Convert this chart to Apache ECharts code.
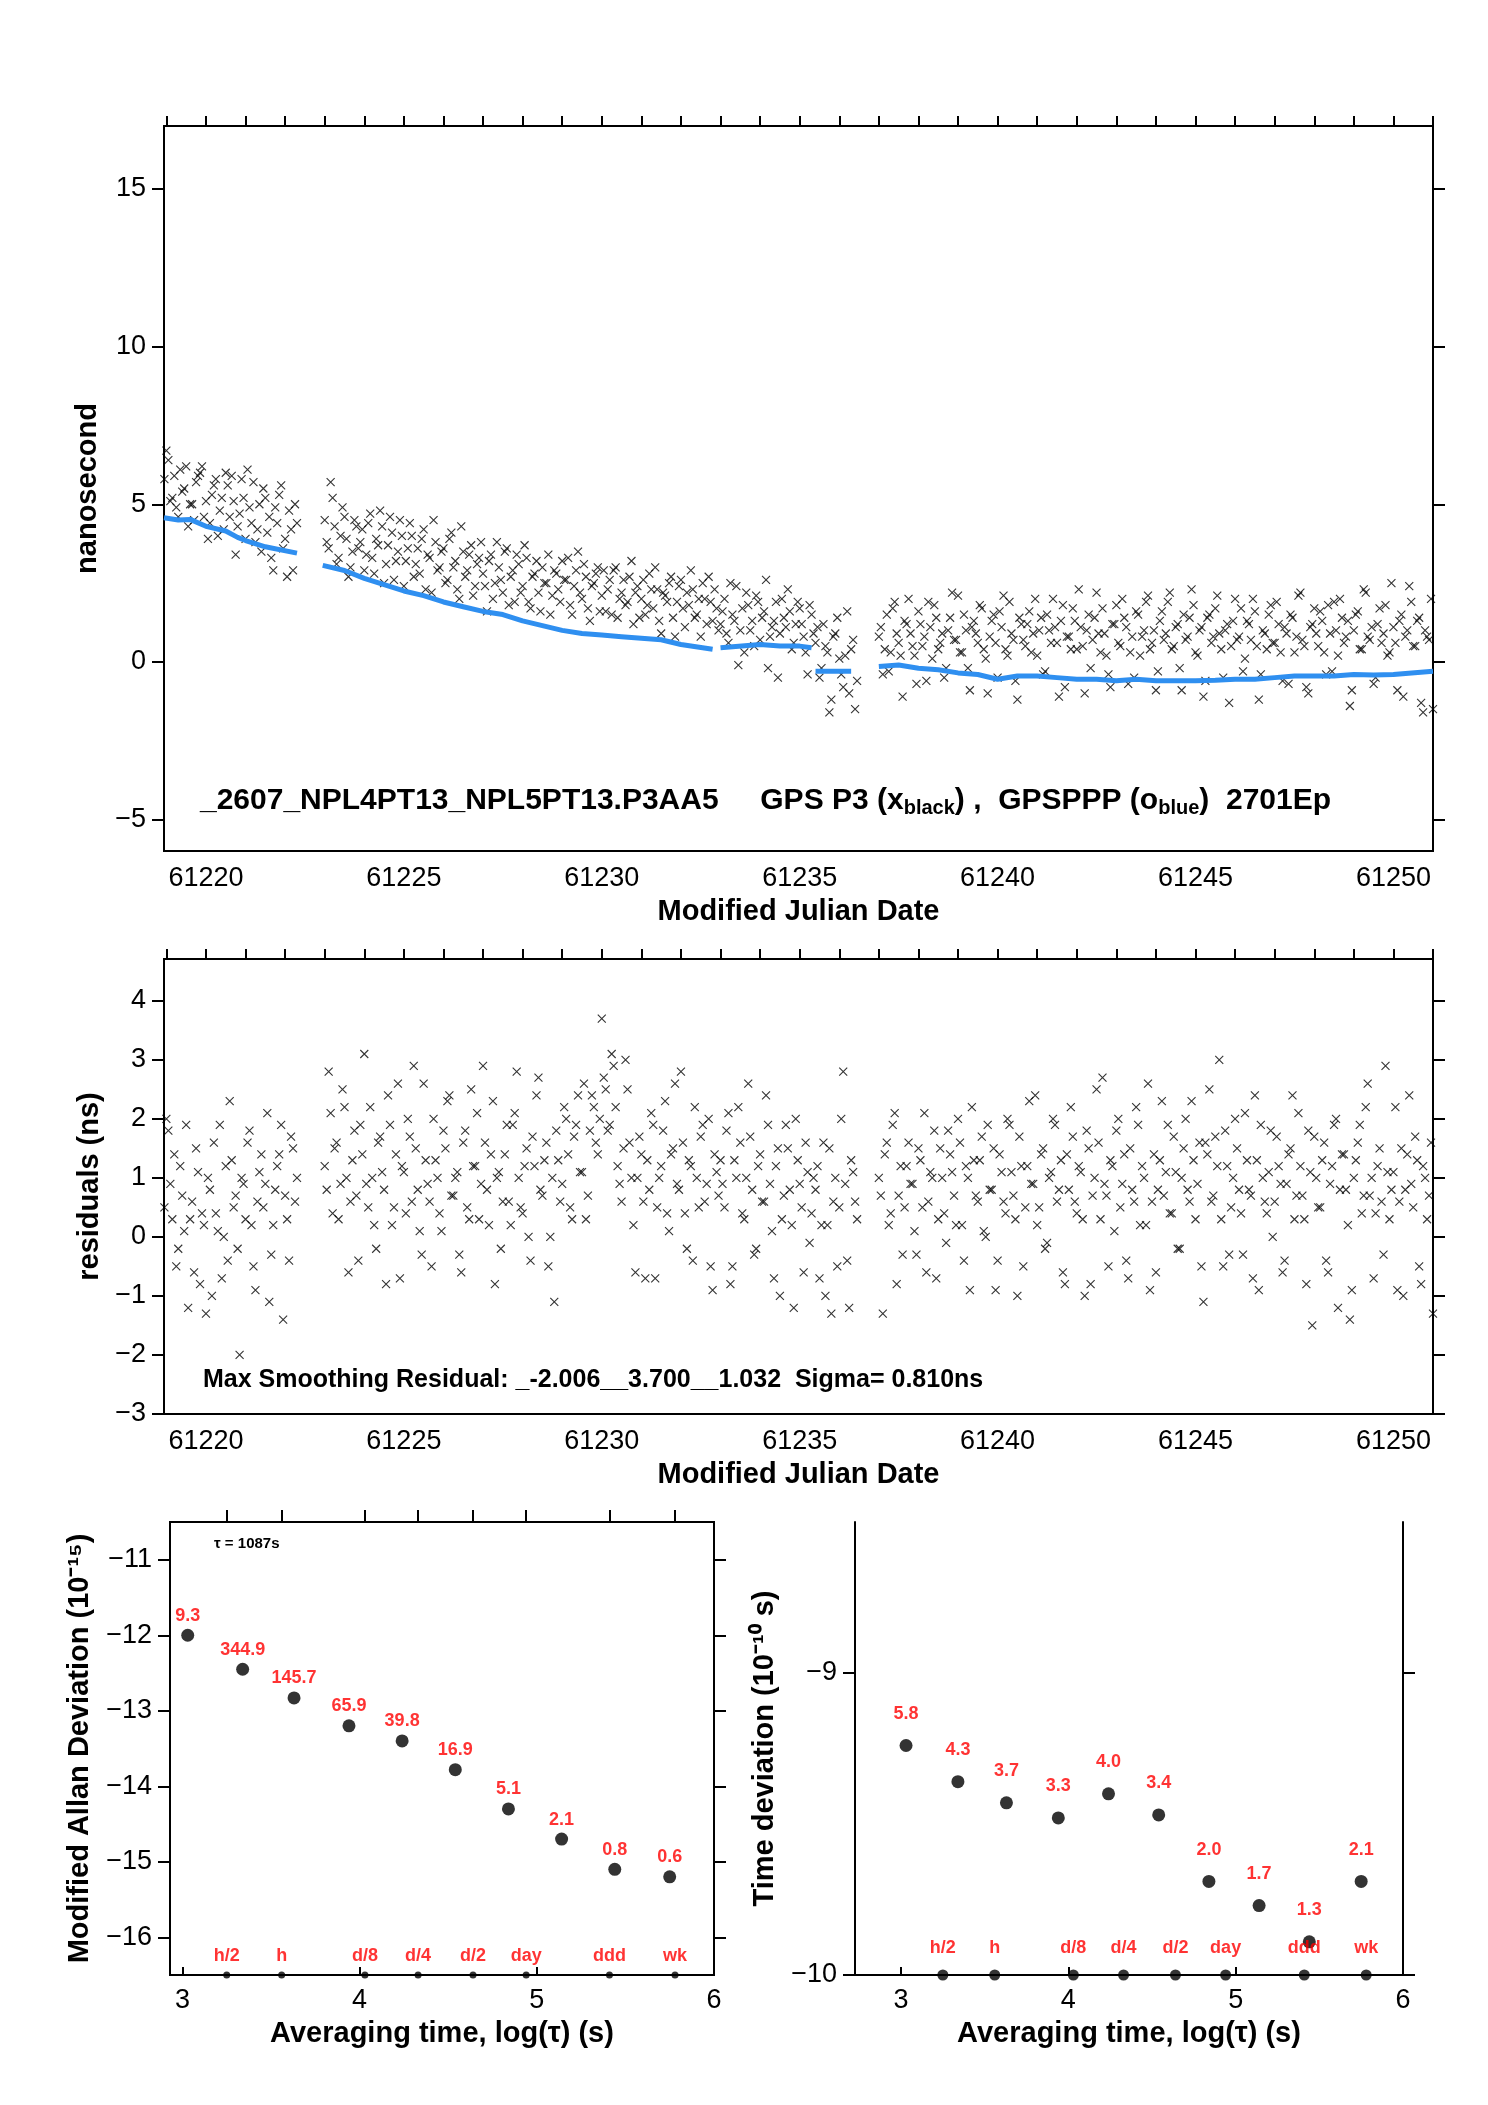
<!DOCTYPE html>
<html><head><meta charset="utf-8">
<script src="https://cdn.jsdelivr.net/npm/echarts@6/dist/echarts.min.js"></script>
<style>html,body{margin:0;background:#fff}#c{width:1488px;height:2105px}</style>
</head><body><div id="c"></div>
<script>
// sampling step of the clock data, days; second sample set sits half a step later
var STEP = 0.1;
var HALF = 0.05;
// segment start times (MJD)
var segStart = [61218.95, 61223.0, 61233.0, 61235.4, 61237.0];

// GPS P3 differences, ns, per segment
var p3Seg = [
 [5.8,6.4,5.2,4.9,6.1,5.5,4.3,5.0,5.7,6.0,4.6,3.9,5.3,5.8,4.8,4.2,5.6,5.9,3.4,4.7,5.2,6.1,4.4,3.8,5.0,5.5,4.1,3.3,4.9,5.3,3.6,2.7,4.2,5.0],
 [4.5,3.6,5.2,3.1,4.0,4.6,2.7,3.5,4.3,3.8,2.9,4.4,3.3,3.9,4.8,2.5,3.7,4.1,3.2,4.5,
  2.4,3.6,4.0,3.1,2.8,4.2,3.4,2.2,3.8,3.0,3.6,2.6,4.1,3.2,2.0,3.5,2.9,3.7,2.4,3.3,
  2.8,1.6,3.4,2.5,3.0,2.2,3.6,2.7,1.9,3.1,2.4,3.3,1.7,2.8,2.2,3.0,2.5,1.5,2.9,2.3,
  3.2,2.6,1.8,2.4,3.5,2.0,2.7,1.3,2.5,3.0,2.1,1.6,2.6,2.9,1.4,2.2,1.8,2.7,1.2,2.4,
  2.0,1.5,2.8,1.7,2.3,0.9,2.1,2.5,1.4,1.9,2.6,1.1,1.8,2.3,1.5,0.8,2.0,2.7,1.3,1.7],
 [1.2,2.0,0.6,1.5,2.4,1.0,0.3,1.8,1.3,2.1,0.7,1.6,-0.2,1.1,1.9,0.9,1.4,2.3,0.4,1.2,1.7,0.8,-0.4,1.5],
 [0.6,-0.5,1.2,0.3,-1.2,0.9,0.1,-0.8,1.6,0.4,-1.5],
 [0.8,-0.4,1.5,0.3,1.9,0.6,-1.1,1.2,0.9,0.2,1.6,0.5,-0.6,1.1,1.8,0.4,0.9,-0.2,1.4,0.7,
  2.1,0.3,1.0,-0.9,1.3,0.6,1.7,0.1,0.8,1.5,-0.5,1.1,0.4,1.9,0.7,-1.2,1.2,0.5,1.6,0.9,
  0.2,1.4,-0.3,1.0,2.0,0.6,1.3,-0.8,0.8,1.7,0.4,1.1,-1.0,1.5,0.7,2.2,0.3,0.9,-0.4,1.2,
  1.8,0.5,1.4,-0.7,0.8,1.6,0.2,1.0,2.1,0.6,-0.9,1.3,0.7,1.9,0.4,1.1,-0.2,1.5,0.8,2.3,
  0.3,1.0,-1.1,1.4,0.6,1.7,0.9,-0.5,1.2,0.5,2.0,0.8,-0.3,1.3,0.7,1.6,-1.2,1.0,0.4,1.8,
  0.6,1.2,-0.6,0.9,1.5,0.3,2.1,0.7,-0.8,1.1,1.7,0.5,1.3,-0.4,0.9,1.9,0.2,1.4,0.8,-1.4,
  1.0,1.6,0.4,2.2,0.7,-0.7,1.2,0.6,1.8,0.3,1.1,-0.9,1.5,0.8,2.4,0.5,1.3,-1.3,1.0,0.7,-1.5]
];
var p3SegB = [
 [6.7,5.1,5.9,4.6,5.4,6.2,5.0,4.5,5.9,6.2,5.1,4.4,5.6,4.0,5.2,6.0,4.6,5.1,4.3,5.8,3.9,4.9,5.7,4.2,3.5,5.2,4.6,2.9,4.4,5.6,3.9,4.8,2.9,4.4],
 [3.8,5.7,4.3,3.3,4.9,3.9,3.0,4.5,3.6,4.2,3.4,4.7,2.8,3.7,4.3,3.1,4.6,2.6,3.5,4.0,
  3.2,4.4,2.7,3.6,3.9,2.3,3.3,4.5,2.9,3.5,2.5,3.9,3.0,2.3,4.3,2.7,3.4,2.1,3.1,3.8,
  2.4,3.2,2.0,3.8,2.6,3.5,1.8,2.9,3.4,2.2,3.7,1.9,2.7,3.2,1.6,2.5,3.4,2.1,2.8,1.9,
  2.6,3.3,1.5,2.9,2.2,3.1,1.7,2.4,2.8,1.6,2.9,2.3,1.5,3.0,2.0,2.6,1.9,3.2,2.2,1.4,
  2.6,1.8,2.3,3.0,1.3,2.2,1.9,2.7,0.8,2.4,1.7,2.2,2.9,1.4,2.0,2.5,1.2,1.9,2.3,1.0],
 [1.6,0.9,2.5,1.3,-0.1,1.7,2.2,1.0,0.5,1.9,1.4,2.6,0.8,1.3,-0.5,2.0,1.1,1.6,0.6,1.9,1.2,0.3,1.8,0.9],
 [1.1,-0.2,0.5,-1.6,0.8,1.4,-0.4,0.2,-1.0,0.7,-0.6],
 [1.1,0.4,-0.3,1.7,0.9,0.2,1.3,2.0,0.5,-0.7,1.2,0.8,1.9,0.1,1.4,0.6,-0.5,1.0,2.2,0.7,
  0.3,1.5,-0.2,1.1,0.9,1.8,0.4,-1.0,1.3,0.6,1.6,2.1,0.2,0.9,-0.6,1.4,0.7,1.2,0.3,2.0,
  1.0,-0.4,1.5,0.6,1.1,-1.1,1.8,0.8,0.4,1.3,2.3,0.5,1.0,-0.2,1.4,0.9,1.7,0.2,-0.8,1.2,
  0.6,2.0,1.1,0.3,-0.5,1.5,0.8,1.9,0.4,1.0,-0.3,1.6,0.9,2.2,0.5,1.2,-0.9,0.7,1.4,1.8,
  0.2,1.1,-0.6,1.5,0.8,2.1,0.4,1.0,-1.3,1.3,0.7,1.7,0.1,1.2,2.0,0.5,-0.4,0.9,1.5,0.6,
  1.9,0.3,1.1,-0.7,1.4,0.8,2.2,0.5,-1.0,1.2,0.9,1.6,0.3,1.8,-0.3,1.0,2.0,0.6,1.3,-0.9,
  1.5,0.4,2.3,0.8,1.1,-0.5,1.7,0.9,0.2,2.5,0.6,1.3,-1.1,1.0,1.9,0.5,1.4,-1.6,0.8,2.0]
];

// GPSPPP smoothed curve [MJD, ns], null = gap
var ppp = [
 [61218.94,4.57],[61219.3,4.5],[61219.6,4.52],[61220.0,4.3],[61220.5,4.15],[61220.8,3.95],[61221.0,3.85],
 [61221.5,3.65],[61222.3,3.45],null,
 [61222.95,3.06],[61223.5,2.9],[61224.0,2.65],[61224.5,2.45],[61225.0,2.25],[61225.5,2.1],[61226.0,1.9],
 [61226.5,1.75],[61227.0,1.6],[61227.5,1.5],[61228.0,1.3],[61228.5,1.15],[61229.0,1.0],[61229.5,0.9],
 [61230.0,0.85],[61230.5,0.8],[61231.0,0.75],[61231.5,0.7],[61232.0,0.55],[61232.8,0.4],null,
 [61233.0,0.45],[61234.0,0.55],[61234.5,0.5],[61235.0,0.5],[61235.3,0.45],null,
 [61235.4,-0.3],[61236.3,-0.3],null,
 [61237.0,-0.15],[61237.5,-0.1],[61238.0,-0.2],[61238.5,-0.25],[61239.0,-0.35],[61239.5,-0.4],[61240.0,-0.55],
 [61240.5,-0.45],[61241.0,-0.45],[61241.5,-0.5],[61242.0,-0.55],[61242.5,-0.55],[61243.0,-0.6],
 [61243.5,-0.55],[61244.0,-0.6],[61244.5,-0.6],[61245.0,-0.6],[61245.5,-0.58],[61246.0,-0.55],
 [61246.5,-0.55],[61247.0,-0.5],[61247.5,-0.45],[61248.0,-0.45],[61248.5,-0.45],[61249.0,-0.4],
 [61249.5,-0.42],[61250.0,-0.4],[61251.0,-0.3]
];

// smoothing residuals, ns, per segment
var resSeg = [
 [0.5,1.8,0.3,-0.5,1.2,0.1,-1.2,0.6,1.5,-0.8,0.2,1.0,-1.0,0.4,1.9,0.0,-0.4,1.3,0.7,-2.0,0.9,1.6,0.2,-0.9,1.1,0.5,2.1,-0.3,0.8,1.4,-1.4,0.3,1.7,0.6],
 [1.2,2.8,0.4,1.6,0.9,2.2,-0.6,1.3,0.7,1.9,3.1,0.5,1.0,-0.2,1.7,0.8,2.4,0.2,1.4,-0.7,
  1.1,2.0,0.6,1.5,0.1,2.6,0.9,-0.5,1.3,0.4,1.8,2.3,0.7,1.0,-0.3,1.6,0.5,2.5,1.2,0.3,
  2.9,0.8,1.4,-0.8,1.1,0.6,1.9,0.2,2.1,1.0,0.4,1.5,-0.4,1.2,2.7,0.7,1.6,0.0,-1.1,1.3,
  0.9,2.0,0.5,1.7,2.4,1.1,0.3,1.8,2.2,1.4,3.7,2.5,1.9,2.9,1.2,0.6,3.0,1.6,0.2,1.0,
  1.4,-0.7,0.8,1.9,0.5,1.2,2.3,0.1,1.5,0.9,2.8,0.4,1.3,-0.4,1.0,1.7,0.6,2.0,-0.9,1.1],
 [1.3,0.5,2.1,-0.5,1.0,1.6,0.3,2.6,0.8,-0.2,1.4,0.6,1.9,0.1,1.2,-1.0,0.7,1.5,0.2,2.0,0.9,-0.6,1.1,0.4],
 [0.8,-0.7,1.6,0.2,-1.3,1.0,0.5,2.8,-0.4,1.3,0.6],
 [1.0,-1.3,1.6,0.4,2.1,0.7,-0.3,1.2,0.9,0.1,1.5,0.5,-0.6,1.1,1.8,0.3,1.0,-0.1,1.4,0.7,
  2.0,0.2,1.2,-0.9,1.3,0.6,1.7,0.0,0.8,1.5,-0.4,1.1,0.4,1.9,0.7,-1.0,1.2,0.5,2.3,0.9,
  0.2,1.4,-0.2,1.0,2.0,0.6,1.3,-0.8,0.8,1.7,0.4,1.1,-1.0,1.5,0.7,2.5,0.3,0.9,-0.5,1.2,
  1.8,0.5,1.4,-0.7,0.8,2.2,0.2,1.0,2.6,0.6,-0.6,1.3,0.7,1.9,0.4,1.1,-0.2,1.5,0.8,2.3,
  0.3,1.6,-1.1,1.4,0.6,1.7,3.0,-0.5,1.2,0.5,2.0,0.8,-0.3,1.3,0.7,2.4,-0.9,1.0,0.4,1.8,
  0.6,1.2,-0.6,0.9,1.5,0.3,2.1,0.7,-0.8,1.1,1.7,0.5,1.3,-0.4,0.9,1.9,-1.2,1.4,0.8,-1.4,
  1.0,1.6,0.4,2.2,0.7,-0.7,1.2,0.6,2.9,0.3,1.1,-0.9,1.5,0.8,2.4,0.5,1.3,-0.8,1.0,0.7,-1.3]
];
var resSegB = [
 [2.0,0.9,1.4,-0.2,0.7,1.9,0.3,-0.6,1.1,0.4,-1.3,0.8,1.6,0.1,-0.7,1.2,2.3,0.5,-0.2,1.0,0.3,1.8,-0.5,0.6,1.4,0.9,-1.1,0.2,1.2,1.9,0.7,-0.4,1.5,1.0],
 [0.8,2.1,1.5,0.3,2.5,1.0,0.6,1.8,-0.4,1.4,0.9,2.2,0.2,1.6,1.1,-0.8,1.9,0.5,2.6,1.2,
  0.4,1.7,2.9,0.8,-0.3,1.3,0.6,2.0,1.0,0.1,1.5,2.4,0.7,1.1,-0.6,1.8,0.3,1.2,2.1,0.9,
  1.6,0.2,2.3,1.0,-0.2,1.4,0.6,1.9,2.8,0.5,1.2,0.0,1.7,2.4,0.8,1.3,-0.5,1.0,1.8,0.6,
  2.2,1.4,0.3,1.9,1.1,2.6,0.7,2.4,1.6,2.0,2.7,1.8,3.1,2.2,0.9,1.5,2.5,1.0,-0.6,1.7,
  0.6,1.3,2.1,-0.7,1.0,1.8,0.4,1.4,2.6,0.8,1.6,-0.2,1.2,2.2,0.5,1.9,0.9,-0.5,1.4,0.7],
 [0.9,1.8,-0.8,1.3,2.2,0.4,1.0,1.7,-0.3,1.2,0.6,2.4,0.9,-0.7,1.5,0.3,1.9,0.8,-1.2,1.3,0.5,1.6,-0.1,1.0],
 [1.2,0.2,-1.0,1.5,0.6,-0.5,2.0,0.9,-1.2,1.1,0.3],
 [0.7,1.4,0.2,1.9,-0.8,1.2,0.5,1.6,0.9,-0.3,1.3,2.1,0.6,1.0,-0.7,1.5,0.4,1.8,1.1,0.2,
  1.6,-0.4,1.0,2.2,0.7,1.3,0.1,1.9,0.8,-0.9,1.4,0.6,2.0,1.1,0.3,1.7,-0.5,1.2,0.9,2.4,
  0.5,1.5,-0.1,1.1,1.9,0.8,-0.6,1.4,2.2,0.6,1.2,0.3,1.8,-0.8,1.0,1.6,2.7,0.7,1.3,0.1,
  2.0,0.9,-0.4,1.5,0.6,1.9,1.2,0.2,-0.9,1.4,0.8,2.3,1.1,0.4,1.7,-0.2,1.0,2.0,0.6,1.3,
  0.9,-0.5,1.6,2.5,0.7,1.2,0.3,1.8,-0.3,1.0,1.5,0.4,2.1,0.8,-0.7,1.3,1.9,0.6,1.1,0.0,
  1.7,0.9,-0.4,1.4,2.4,0.7,1.2,0.3,1.8,-1.5,1.0,0.5,1.6,-0.6,1.2,2.0,0.8,1.4,0.2,-0.9,
  1.3,1.9,0.7,2.6,1.0,0.4,1.5,-0.3,1.1,0.8,2.2,0.6,-1.0,1.4,0.9,1.7,-0.5,1.2,0.3,1.6]
];

// stability analysis
var logTau = [3.03,3.34,3.63,3.94,4.24,4.54,4.84,5.14,5.44,5.75];
var modAdev = [-12.0,-12.45,-12.83,-13.2,-13.4,-13.78,-14.3,-14.7,-15.1,-15.2];
var adevLbl = ['9.3','344.9','145.7','65.9','39.8','16.9','5.1','2.1','0.8','0.6'];
var tdev = [-9.24,-9.36,-9.43,-9.48,-9.40,-9.47,-9.69,-9.77,-9.89,-9.69];
var tdevLbl = ['5.8','4.3','3.7','3.3','4.0','3.4','2.0','1.7','1.3','2.1'];
var markTau = [3.25,3.56,4.03,4.33,4.64,4.94,5.41,5.78];
var markLbl = ['h/2','h','d/8','d/4','d/2','day','ddd','wk'];

var mjdLabels = [61220,61225,61230,61235,61240,61245,61250];
var mjdDays = [];
for (var d = 61219; d <= 61251; d++) mjdDays.push(d);

function toPts(segs, shift) {
  var out = [];
  segs.forEach(function (vals, s) {
    vals.forEach(function (v, i) { out.push([segStart[s] + shift + i * STEP, v]); });
  });
  return out;
}

var FONT = 'Liberation Sans';
var minus = function (v) { return String(v).replace('-', '\u2212'); };
var cross = 'path://M0,0L10,10M10,0L0,10';
var black = '#000';

function mjdAxes(gi) {
  return [
    {gridIndex: gi, type: 'value', min: 61218.94, max: 61251, position: 'bottom',
     name: 'Modified Julian Date', nameLocation: 'middle', nameGap: 46,
     nameTextStyle: {fontFamily: FONT, fontSize: 29, fontWeight: 'bold', color: black},
     axisLine: {onZero: false, lineStyle: {color: black, width: 2}}, axisTick: {show: false}, splitLine: {show: false},
     axisLabel: {customValues: mjdLabels, formatter: function (v) { return String(v); },
       fontFamily: FONT, fontSize: 27, color: black, margin: 14}},
    {gridIndex: gi, type: 'value', min: 61218.94, max: 61251, position: 'top',
     axisLine: {onZero: false, lineStyle: {color: black, width: 2}}, splitLine: {show: false},
     axisLabel: {show: false},
     axisTick: {customValues: mjdDays, length: 10, lineStyle: {color: black, width: 2}}}
  ];
}

function yAxes(gi, mn, mx, vals, name, gap) {
  return [
    {gridIndex: gi, type: 'value', min: mn, max: mx, position: 'left',
     name: name, nameLocation: 'middle', nameGap: gap, nameRotate: 90,
     nameTextStyle: {fontFamily: FONT, fontSize: 29, fontWeight: 'bold', color: black},
     axisLine: {show: true, onZero: false, lineStyle: {color: black, width: 2}}, splitLine: {show: false},
     axisTick: {show: true, customValues: vals, length: 12, lineStyle: {color: black, width: 2}},
     axisLabel: {customValues: vals, formatter: minus, fontFamily: FONT, fontSize: 27, color: black, margin: 18}},
    {gridIndex: gi, type: 'value', min: mn, max: mx, position: 'right',
     axisLine: {show: true, onZero: false, lineStyle: {color: black, width: 2}}, splitLine: {show: false}, axisLabel: {show: false},
     axisTick: {show: true, customValues: vals, length: 12, lineStyle: {color: black, width: 2}}}
  ];
}

function tauAxes(gi, mn, topTicks) {
  return [
    {gridIndex: gi, type: 'value', min: mn, max: 6, position: 'bottom',
     name: 'Averaging time, log(\u03c4) (s)', nameLocation: 'middle', nameGap: 44,
     nameTextStyle: {fontFamily: FONT, fontSize: 29, fontWeight: 'bold', color: black},
     axisLine: {onZero: false, lineStyle: {color: black, width: 2}}, splitLine: {show: false},
     axisTick: {customValues: [3,4,5,6], inside: true, length: 8, lineStyle: {color: black, width: 2}},
     axisLabel: {customValues: [3,4,5,6], fontFamily: FONT, fontSize: 27, color: black, margin: 12}},
    {gridIndex: gi, type: 'value', min: mn, max: 6, position: 'top',
     axisLine: {show: topTicks, onZero: false, lineStyle: {color: black, width: 2}}, splitLine: {show: false}, axisLabel: {show: false},
     axisTick: {show: topTicks, customValues: markTau, length: 12, lineStyle: {color: black, width: 2}}}
  ];
}

var grids = [
  {left: 164, top: 126, width: 1269, height: 725},
  {left: 164, top: 959, width: 1269, height: 455},
  {left: 170, top: 1522, width: 544, height: 453},
  {left: 855, top: 1522, width: 548, height: 453}
];

var xAxes = [].concat(mjdAxes(0), mjdAxes(1), tauAxes(2, 2.93, true), tauAxes(3, 2.725, false));
var yAx = [].concat(
  yAxes(0, -6, 17, [-5,0,5,10,15], 'nanosecond', 62),
  yAxes(1, -3, 4.71, [-3,-2,-1,0,1,2,3,4], 'residuals (ns)', 60),
  yAxes(2, -16.5, -10.5, [-16,-15,-14,-13,-12,-11], 'Modified Allan Deviation (10\u207b\u00b9\u2075)', 76),
  yAxes(3, -10, -8.5, [-10,-9], 'Time deviation (10\u207b\u00b9\u2070 s)', 76)
);

var redLbl = function (arr, dist) {
  return {show: true, position: 'top', distance: dist, color: '#ff0000', fontFamily: FONT,
    fontWeight: 'bold', fontSize: 18, formatter: function (p) { return arr[p.dataIndex]; }};
};
var crossStyle = {color: 'none', borderColor: black, borderWidth: 1.1};

var series = [
  {type: 'scatter', xAxisIndex: 0, yAxisIndex: 0, data: toPts(p3Seg, 0), symbol: cross, symbolSize: 8,
   itemStyle: crossStyle, silent: true},
  {type: 'scatter', xAxisIndex: 0, yAxisIndex: 0, data: toPts(p3SegB, HALF), symbol: cross, symbolSize: 8,
   itemStyle: crossStyle, silent: true},
  {type: 'line', xAxisIndex: 0, yAxisIndex: 0, data: ppp, showSymbol: false, connectNulls: false,
   lineStyle: {color: '#2f8ff0', width: 5}, silent: true},
  {type: 'scatter', xAxisIndex: 2, yAxisIndex: 2, data: toPts(resSeg, 0), symbol: cross, symbolSize: 8,
   itemStyle: crossStyle, silent: true},
  {type: 'scatter', xAxisIndex: 2, yAxisIndex: 2, data: toPts(resSegB, HALF), symbol: cross, symbolSize: 8,
   itemStyle: crossStyle, silent: true},
  {type: 'scatter', xAxisIndex: 4, yAxisIndex: 4, data: logTau.map(function (t, i) { return [t, modAdev[i]]; }),
   symbolSize: 13, itemStyle: {color: black}, label: redLbl(adevLbl, 4)},
  {type: 'scatter', xAxisIndex: 4, yAxisIndex: 4, data: markTau.map(function (t) { return [t, -16.5]; }),
   symbolSize: 7, itemStyle: {color: black}, clip: false, label: redLbl(markLbl, 6)},
  {type: 'scatter', xAxisIndex: 6, yAxisIndex: 6, data: logTau.map(function (t, i) { return [t, tdev[i]]; }),
   symbolSize: 13, itemStyle: {color: black}, label: redLbl(tdevLbl, 16)},
  {type: 'scatter', xAxisIndex: 6, yAxisIndex: 6, data: markTau.map(function (t) { return [t, -10]; }),
   symbolSize: 11, itemStyle: {color: black}, clip: false, label: redLbl(markLbl, 12)}
];

var chart = echarts.init(document.getElementById('c'), null, {renderer: 'canvas'});
chart.setOption({
  animation: false,
  backgroundColor: '#fff',
  grid: grids,
  xAxis: xAxes,
  yAxis: yAx,
  series: series,
  graphic: [
    {type: 'rect', shape: {x: 164, y: 126, width: 1269, height: 725}, style: {fill: 'none', stroke: black, lineWidth: 2}, silent: true},
    {type: 'rect', shape: {x: 164, y: 959, width: 1269, height: 455}, style: {fill: 'none', stroke: black, lineWidth: 2}, silent: true},
    {type: 'rect', shape: {x: 170, y: 1522, width: 544, height: 453}, style: {fill: 'none', stroke: black, lineWidth: 2}, silent: true},
    {type: 'text', left: 200, top: 786, style: {
      text: '_2607_NPL4PT13_NPL5PT13.P3AA5     GPS P3 (x{s|black}) ,  GPSPPP (o{s|blue})  2701Ep',
      fontFamily: FONT, fontSize: 30, fontWeight: 'bold', fill: black,
      rich: {s: {fontFamily: FONT, fontSize: 20, fontWeight: 'bold', padding: [14, 0, 0, 0]}}}},
    {type: 'text', left: 203, top: 1368, style: {
      text: 'Max Smoothing Residual: _-2.006__3.700__1.032  Sigma= 0.810ns',
      fontFamily: FONT, fontSize: 25, fontWeight: 'bold', fill: black}},
    {type: 'text', left: 214, top: 1536, style: {
      text: '\u03c4 = 1087s', fontFamily: FONT, fontSize: 15, fontWeight: 'bold', fill: black}}
  ]
});
</script>
</body></html>
